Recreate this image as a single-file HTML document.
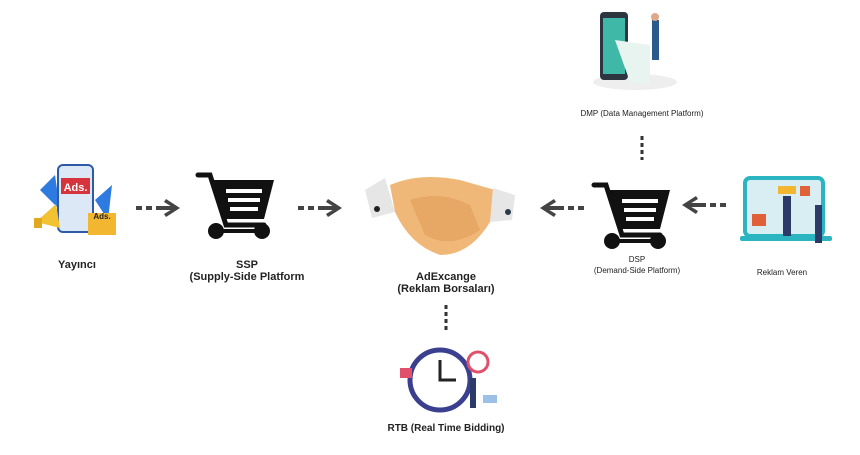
<!DOCTYPE html>
<html><head><meta charset="utf-8"><style>
body{margin:0;background:#fff;width:860px;height:450px;overflow:hidden}
svg text{font-family:"Liberation Sans",sans-serif;fill:#222}
</style></head><body>
<svg width="860" height="450" viewBox="0 0 860 450">
<defs>
<g id="cart">
<path d="M0,0 H12 L28,50 H66" fill="none" stroke="#111" stroke-width="5" stroke-linecap="round"/>
<path d="M12,5 H76 L66,44 H24 Z" fill="#111"/>
<rect x="28" y="14" width="36" height="4" fill="#fff"/>
<rect x="30" y="23" width="32" height="4" fill="#fff"/>
<rect x="32" y="32" width="28" height="4" fill="#fff"/>
<circle cx="18" cy="56" r="8" fill="#111"/><circle cx="64" cy="56" r="8" fill="#111"/>
<rect x="18" y="54" width="46" height="4" fill="#111"/>
</g>
<g id="arR" fill="#444">
<rect x="0" y="-2" width="6" height="4"/><rect x="10" y="-2" width="6" height="4"/><rect x="20" y="-2" width="20" height="4"/>
<path d="M30,-9 L44,0 L30,9 L28,6 L38,0 L28,-6Z"/>
</g>
</defs>
<!-- Yayinci -->
<path d="M40,190 L55,175 L60,210 Z" fill="#2d7be0"/>
<path d="M95,200 L112,185 L108,220 Z" fill="#2d7be0"/>
<rect x="58" y="165" width="35" height="67" rx="5" fill="#dde8f6" stroke="#2d5ba8" stroke-width="2"/>
<rect x="61" y="178" width="29" height="16" fill="#d6333d"/>
<text x="75.5" y="191" font-size="11" font-weight="bold" text-anchor="middle" style="fill:#fff">Ads.</text>
<rect x="88" y="213" width="28" height="22" fill="#f2b630"/>
<text x="102" y="219" font-size="8" font-weight="bold" text-anchor="middle">Ads.</text>
<path d="M36,222 L56,204 L60,228 Z" fill="#f2c232"/><rect x="34" y="218" width="8" height="10" fill="#e0a820"/>
<text x="77" y="268" font-size="11" font-weight="bold" text-anchor="middle">Yayıncı</text>
<use href="#arR" x="136" y="208"/>
<use href="#cart" x="198" y="175"/>
<text x="247" y="268" font-size="11" font-weight="bold" text-anchor="middle">SSP</text>
<text x="247" y="280" font-size="11" font-weight="bold" text-anchor="middle">(Supply-Side Platform</text>
<use href="#arR" x="298" y="208"/>
<!-- handshake -->
<path d="M365,190 L385,178 L395,212 L372,218 Z" fill="#e6e6e6"/>
<circle cx="377" cy="209" r="3" fill="#222"/>
<path d="M390,185 Q420,172 460,180 L495,190 L490,222 Q470,255 440,255 Q410,245 395,212 Z" fill="#f0b878"/>
<path d="M410,200 Q440,190 470,205 L480,230 Q450,250 425,235 Z" fill="#e8a865"/>
<path d="M493,188 L515,195 L512,220 L490,222 Z" fill="#e6e6e6"/>
<circle cx="508" cy="212" r="3" fill="#2a3a4a"/>
<text x="446" y="280" font-size="11" font-weight="bold" text-anchor="middle">AdExcange</text>
<text x="446" y="292" font-size="11" font-weight="bold" text-anchor="middle">(Reklam Borsaları)</text>
<path d="M446,305 V330" stroke="#333" stroke-width="3" stroke-dasharray="4,3"/>
<!-- RTB -->
<circle cx="440" cy="380" r="30" fill="#fff" stroke="#3a3f8f" stroke-width="5"/>
<path d="M440,360 V380 H456" stroke="#222" stroke-width="3" fill="none"/>
<circle cx="478" cy="362" r="10" fill="#fff" stroke="#e0506a" stroke-width="3"/>
<rect x="400" y="368" width="12" height="10" fill="#e0506a"/>
<rect x="483" y="395" width="14" height="8" fill="#9bc2e6"/>
<rect x="470" y="378" width="6" height="30" fill="#2b3a67"/>
<text x="446" y="431" font-size="10" font-weight="bold" text-anchor="middle">RTB (Real Time Bidding)</text>
<!-- DMP -->
<ellipse cx="635" cy="82" rx="42" ry="8" fill="#eeeeee"/>
<rect x="600" y="12" width="28" height="68" rx="4" fill="#2c3540"/>
<rect x="603" y="18" width="22" height="56" fill="#3fb8a8"/>
<path d="M615,40 L650,45 L650,85 L630,82 Z" fill="#e8f4ef"/>
<rect x="652" y="20" width="7" height="40" fill="#2a5b8c"/><circle cx="655" cy="17" r="4" fill="#e0a888"/>
<text x="642" y="116" font-size="8" text-anchor="middle">DMP (Data Management Platform)</text>
<path d="M642,136 V160" stroke="#333" stroke-width="3" stroke-dasharray="4,3"/>
<g transform="translate(584,208) scale(-1,1)"><use href="#arR"/></g>
<use href="#cart" x="594" y="185"/>
<text x="637" y="262" font-size="8" text-anchor="middle">DSP</text>
<text x="637" y="273" font-size="8" text-anchor="middle">(Demand-Side Platform)</text>
<g transform="translate(726,205) scale(-1,1)"><use href="#arR"/></g>
<!-- Reklam Veren -->
<rect x="745" y="178" width="78" height="58" rx="5" fill="#d8eef2" stroke="#2bb5c0" stroke-width="4"/>
<rect x="740" y="236" width="92" height="5" rx="2" fill="#2bb5c0"/>
<rect x="778" y="186" width="18" height="8" fill="#f2b630"/>
<rect x="752" y="214" width="14" height="12" fill="#e0603a"/>
<rect x="800" y="186" width="10" height="10" fill="#e0603a"/>
<rect x="783" y="196" width="8" height="40" fill="#2b3a67"/>
<rect x="815" y="205" width="7" height="38" fill="#2b3a67"/>
<text x="782" y="275" font-size="8" text-anchor="middle">Reklam Veren</text>
</svg>
</body></html>
